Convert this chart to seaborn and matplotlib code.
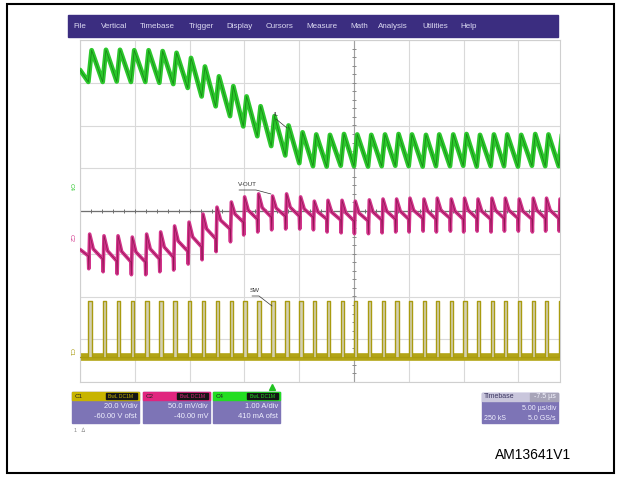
import numpy as np
import pandas as pd
import matplotlib
matplotlib.use("Agg")
import matplotlib.pyplot as plt
from matplotlib.patches import Rectangle
from matplotlib.lines import Line2D
import seaborn as sns

# values: time in us (0 = screen centre), levels in divisions
sw_edges = [-24.24, -22.93, -21.65, -20.35, -19.04, -17.76, -16.49, -15.17, -13.90,
            -12.62, -11.31, -10.10, -8.82, -7.55, -6.27, -4.99, -3.74, -2.49, -1.21,
            0.00, 1.28, 2.53, 3.77, 4.99, 6.27, 7.48, 8.76, 9.97, 11.20, 12.47, 13.69,
            14.96, 16.24, 17.45, 18.68]
il_valley = [3.02, 3.02, 3.03, 3.02, 3.02, 3.00, 2.97, 2.88, 2.68, 2.45, 2.22, 1.98,
             1.75, 1.52, 1.30, 1.12, 1.05, 1.04, 1.06, 1.05, 1.04, 1.05, 1.06, 1.05,
             1.04, 1.05, 1.05, 1.06, 1.04, 1.05, 1.05, 1.04, 1.06, 1.05, 1.05]
il_peak = [3.76, 3.77, 3.77, 3.76, 3.76, 3.74, 3.70, 3.58, 3.38, 3.15, 2.92, 2.68,
           2.45, 2.22, 2.00, 1.84, 1.79, 1.78, 1.80, 1.79, 1.78, 1.79, 1.80, 1.79,
           1.78, 1.79, 1.79, 1.80, 1.78, 1.79, 1.79, 1.78, 1.80, 1.79, 1.79]
vout_pre = [-1.05, -1.12, -1.17, -1.19, -1.19, -1.12, -1.08, -0.94, -0.84, -0.65,
            -0.42, -0.26, -0.19, -0.14, -0.12, -0.12, -0.14, -0.19, -0.21, -0.23,
            -0.23, -0.21, -0.19, -0.19, -0.17, -0.19, -0.17, -0.19, -0.17, -0.19,
            -0.17, -0.17, -0.19, -0.17, -0.17]
vout_top = [-0.54, -0.58, -0.58, -0.61, -0.54, -0.49, -0.35, -0.26, -0.07, 0.09,
            0.21, 0.33, 0.40, 0.35, 0.40, 0.33, 0.23, 0.25, 0.25, 0.23, 0.26, 0.28,
            0.28, 0.30, 0.28, 0.30, 0.28, 0.30, 0.28, 0.30, 0.30, 0.28, 0.30, 0.30, 0.28]
il_start = 3.30
vout_start = -0.90
sw_low, sw_high = -3.42, -2.10
trigger_delay = -7.5

menu_items = ["File", "Vertical", "Timebase", "Trigger", "Display", "Cursors",
              "Measure", "Math", "Analysis", "Utilities", "Help"]
channels = [("C1", "20.0 V/div", "-60.00 V ofst"),
            ("C2", "50.0 mV/div", "-40.00 mV"),
            ("C4", "1.00 A/div", "410 mA ofst")]
timebase = ("Timebase", "-7.5 µs", "5.00 µs/div", "250 kS", "5.0 GS/s")

W, H = 620, 479
t_on = 0.30
GREEN, MAG, YEL = "#2cc72c", "#d2338a", "#b3a516"

# build the traces
il_t, il_y = [-25.0], [il_start]
for t, v, p in zip(sw_edges, il_valley, il_peak):
    il_t += [t, t + t_on]
    il_y += [v, p]
il = pd.DataFrame({"t": il_t, "y": il_y})

vo_t, vo_y = [-25.0], [vout_start]
for k, t in enumerate(sw_edges):
    nxt = vout_pre[k + 1] if k + 1 < len(sw_edges) else vout_pre[k]
    top = vout_top[k]
    vo_t += [t, t + 0.04, t + 0.12, t + 0.45]
    vo_y += [vout_pre[k], vout_pre[k] - 0.3, top, top - 0.6 * (top - nxt)]
vo = pd.DataFrame({"t": vo_t, "y": vo_y})

sw_t, sw_y = [-25.0], [sw_low]
for t in sw_edges:
    sw_t += [t, t, t + t_on, t + t_on]
    sw_y += [sw_low, sw_high, sw_high, sw_low]
sw = pd.DataFrame({"t": sw_t, "y": sw_y})

sns.set_style("white")
plt.rcParams['font.family'] = ['Liberation Sans', 'DejaVu Sans']

fig = plt.figure(figsize=(6.2, 4.79), dpi=100)
ax = fig.add_axes([80 / W, 1 - 382 / H, 480 / W, 342 / H])


def fx(x):
    return x / W


def fy(y):
    return 1 - y / H


# graticule
ax.set_xlim(-25, 18.8)
ax.set_ylim(-4, 4)
ax.set_xticks(np.arange(-25, 19, 5))
ax.set_yticks(np.arange(-4, 5, 1))
ax.tick_params(length=0, labelbottom=False, labelleft=False)
ax.grid(True, color="#d9d9d9", lw=0.8)
for s in ax.spines.values():
    s.set_color("#cfcfcf")
    s.set_linewidth(0.8)
ax.axvline(0, color="#a0a0a0", lw=0.8, zorder=1)
ax.axhline(0, color="#707070", lw=0.9, zorder=1)
ax.plot(np.zeros(41), np.arange(-4, 4.01, 0.2), ls="none", marker="_", ms=3,
        color="#8a8a8a", mew=0.7, zorder=1)
ax.plot(np.arange(-25, 18.9, 1.0), np.zeros(44), ls="none", marker="|", ms=3,
        color="#707070", mew=0.7, zorder=1)

# SW (C1)
ax.plot([-25, 18.8], [sw_low, sw_low], color=YEL, lw=5.5, solid_capstyle="butt", zorder=2)
for t in sw_edges:
    ax.fill_between([t, t + t_on], sw_low, sw_high, color="#d3d0b4", lw=0, zorder=2)
sns.lineplot(data=sw, x="t", y="y", ax=ax, sort=False, estimator=None,
             color="#a99b10", lw=1.0, zorder=3)

# V-OUT (C2)
sns.lineplot(data=vo, x="t", y="y", ax=ax, sort=False, estimator=None,
             color=MAG, lw=2.6, zorder=4)
sns.lineplot(data=vo, x="t", y="y", ax=ax, sort=False, estimator=None,
             color="#8e1652", lw=0.5, zorder=5)

# IL (C4)
sns.lineplot(data=il, x="t", y="y", ax=ax, sort=False, estimator=None,
             color=GREEN, lw=3.4, zorder=6)
sns.lineplot(data=il, x="t", y="y", ax=ax, sort=False, estimator=None,
             color="#178c17", lw=0.6, zorder=7)
ax.set_xlabel("")
ax.set_ylabel("")

# trigger marker
ax.plot([trigger_delay], [-4.12], marker="^", ms=4, color="#22c422",
        clip_on=False, zorder=8)

# channel level markers
for lbl, ypx, col in [("C4", 187, GREEN), ("C2", 238, MAG), ("C1", 352, "#a99b10")]:
    fig.text(fx(71), fy(ypx), lbl, fontsize=4.5, color=col, rotation=270,
             ha="center", va="center")

# annotations
for lbl, (tx, ty), pts in [("V-OUT", (247, 185), [(239, 190), (256, 190), (271, 194)]),
                           ("SW", (255, 291), [(252, 296), (259, 296), (272, 306)]),
                           ("IL", (276, 115), [(276, 119), (287, 128)])]:
    fig.text(fx(tx), fy(ty), lbl, fontsize=4.5, color="#333333", ha="center", va="center")
    fig.add_artist(Line2D([fx(p[0]) for p in pts], [fy(p[1]) for p in pts],
                          color="#333333", lw=0.5, transform=fig.transFigure))

# menu bar
fig.add_artist(Rectangle((fx(68), fy(37)), (558 - 68) / W, 22 / H, color="#3b2d80",
                         transform=fig.transFigure, zorder=0))
menu_x = [73, 101, 140, 189, 226, 266, 306, 350, 378, 422, 460]
for name, x in zip(menu_items, menu_x):
    fig.text(fx(x), fy(26), name, fontsize=5.8, color="#dcdaf2", va="center")

# channel boxes
box_x = [72, 143, 213]
head_col = ["#c8b400", "#e0257f", "#22dd22"]
for (ch, l1, l2), x0, hc in zip(channels, box_x, head_col):
    fig.add_artist(Rectangle((fx(x0), fy(423)), 67 / W, 31 / H, color="#7d74b6",
                             transform=fig.transFigure))
    fig.add_artist(Rectangle((fx(x0), fy(400)), 67 / W, 8 / H, color=hc,
                             transform=fig.transFigure))
    fig.add_artist(Rectangle((fx(x0 + 34), fy(399)), 31 / W, 6 / H, color="#151515",
                             transform=fig.transFigure))
    fig.text(fx(x0 + 3), fy(396), ch, fontsize=4.5, color="#222222", va="center")
    fig.text(fx(x0 + 49), fy(396), "BwL DC1M", fontsize=3.6, color=hc,
             ha="center", va="center")
    fig.text(fx(x0 + 65), fy(407), l1, fontsize=5.4, color="#f0f0ff", ha="right", va="center")
    fig.text(fx(x0 + 65), fy(417), l2, fontsize=5.4, color="#f0f0ff", ha="right", va="center")
fig.text(fx(74), fy(430), "1   \u2206", fontsize=4, color="#888888", va="center")

# timebase box
fig.add_artist(Rectangle((fx(482), fy(423)), 76 / W, 30 / H, color="#7d74b6",
                         transform=fig.transFigure))
fig.add_artist(Rectangle((fx(482), fy(401)), 48 / W, 8 / H, color="#c9c6dc",
                         transform=fig.transFigure))
fig.add_artist(Rectangle((fx(530), fy(401)), 28 / W, 8 / H, color="#a7a4b8",
                         transform=fig.transFigure))
fig.text(fx(484), fy(397), timebase[0], fontsize=5.0, color="#3a3560", va="center")
fig.text(fx(556), fy(397), timebase[1], fontsize=5.0, color="#f5f5ff", ha="right", va="center")
fig.text(fx(556), fy(408), timebase[2], fontsize=5.0, color="#f0f0ff", ha="right", va="center")
fig.text(fx(484), fy(418), timebase[3], fontsize=5.0, color="#f0f0ff", va="center")
fig.text(fx(556), fy(418), timebase[4], fontsize=5.0, color="#f0f0ff", ha="right", va="center")

# figure frame and id
fig.add_artist(Rectangle((fx(7), fy(473)), 607 / W, 469 / H, fill=False, ec="black",
                         lw=1.5, transform=fig.transFigure))
fig.text(fx(533), fy(455), "AM13641V1", fontsize=10, color="black",
         ha="center", va="center")

fig.savefig("out.png", dpi=100)
